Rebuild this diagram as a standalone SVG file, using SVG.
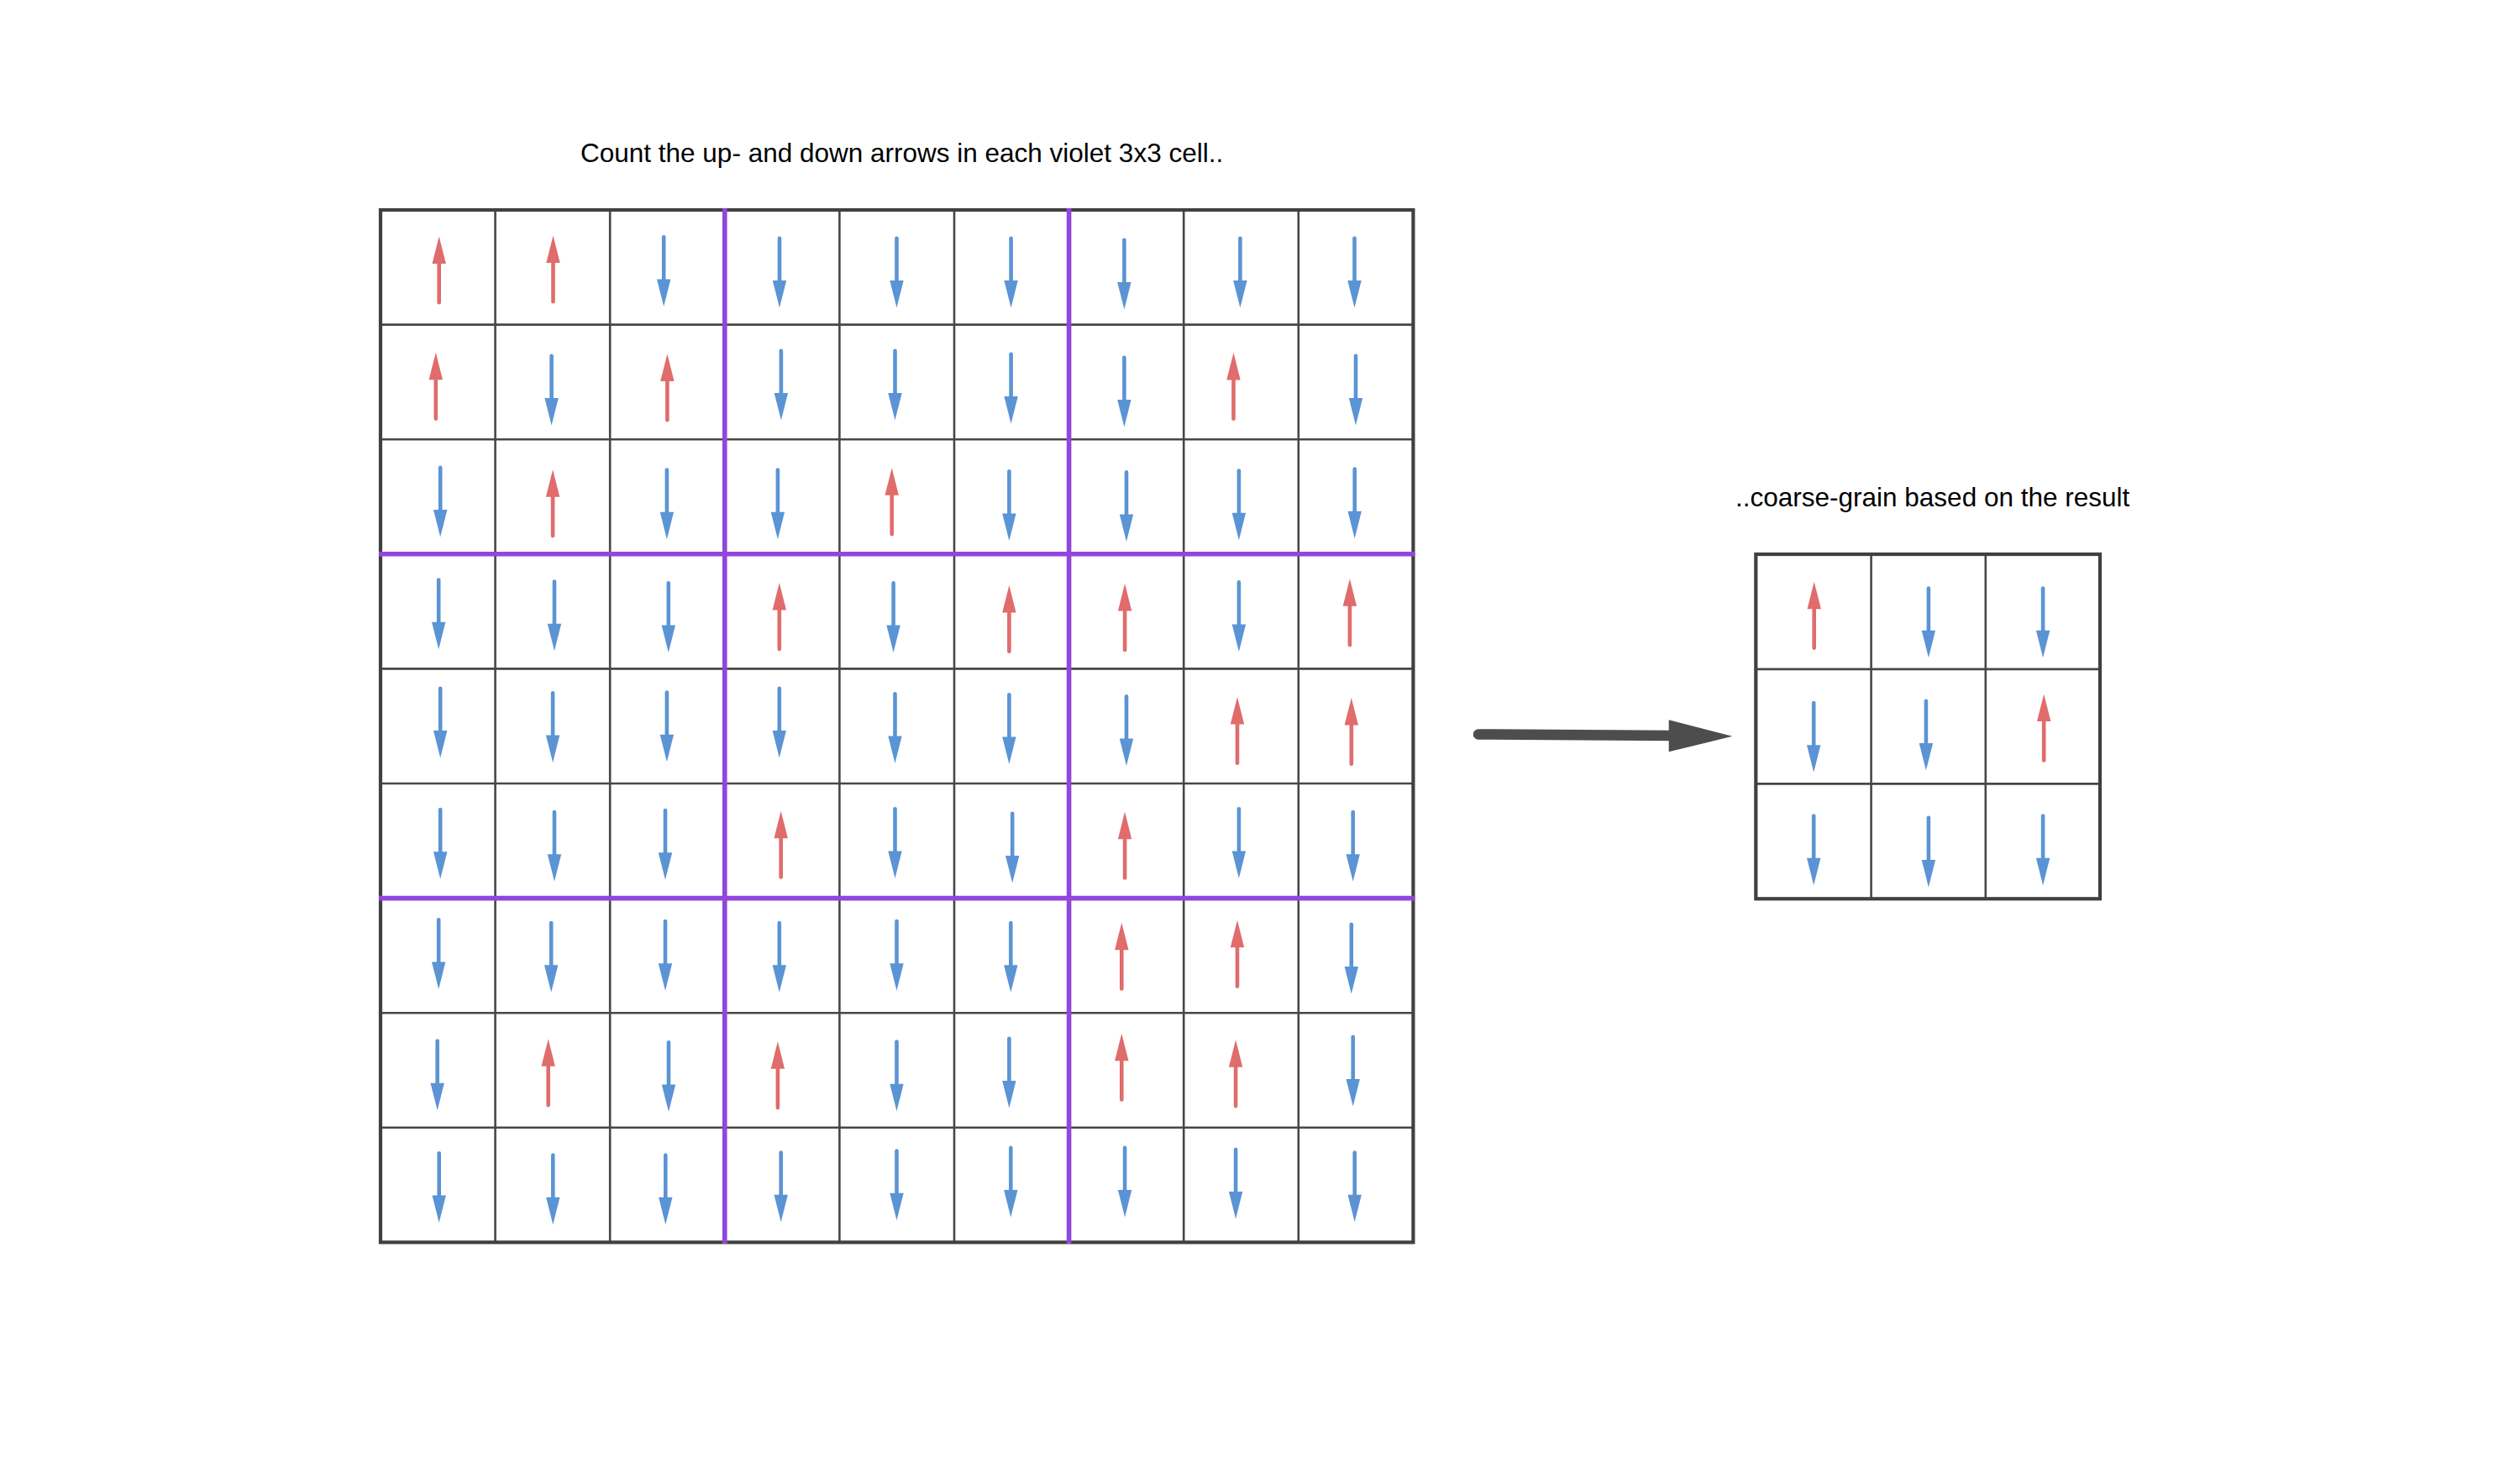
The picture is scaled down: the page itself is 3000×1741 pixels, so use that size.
<svg xmlns="http://www.w3.org/2000/svg" xmlns:xlink="http://www.w3.org/1999/xlink" width="3000" height="1741" viewBox="0 0 3000 1741">
<style>
.lbl{font-family:"Liberation Sans",Arial,sans-serif;font-size:31.5px;fill:#000}
.inner{stroke:#333;stroke-width:2.6;stroke-opacity:0.9;fill:none}
.outer{stroke:#404040;stroke-width:4.2;fill:none}
.violet{stroke:#9146DC;stroke-width:5.6;fill:none}
</style>
<defs>
<g id="up">
<line x1="0" y1="-10" x2="0" y2="38.3" stroke="#E06C6C" stroke-width="4.6" stroke-linecap="round"/>
<polygon points="0,-40.5 -8.2,-8 8.2,-8" fill="#E06C6C"/>
</g>
<g id="dn">
<line x1="0" y1="-40.2" x2="0" y2="12" stroke="#5B94D5" stroke-width="4.6" stroke-linecap="round"/>
<polygon points="0,42.5 -8.2,10 8.2,10" fill="#5B94D5"/>
</g>
</defs>
<rect width="3000" height="1741" fill="#fff"/>
<text class="lbl" x="691" y="192.7">Count the up- and down arrows in each violet 3x3 cell..</text>
<text class="lbl" x="2066" y="603">..coarse-grain based on the result</text>

<g id="big-grid">
<path class="inner" d="M589.6,250V1479.4M726.2,250V1479.4M862.8,250V1479.4M999.4,250V1479.4M1136,250V1479.4M1272.6,250V1479.4M1409.2,250V1479.4M1545.8,250V1479.4M453,386.6H1682.4M453,523.2H1682.4M453,659.8H1682.4M453,796.4H1682.4M453,933H1682.4M453,1069.6H1682.4M453,1206.2H1682.4M453,1342.8H1682.4"/>
<rect class="outer" x="453" y="250" width="1229.4" height="1229.4"/>
<path class="violet" d="M862.8,248V1481M1272.6,248V1481M451,659.8H1684.4M451,1069.6H1684.4"/>
</g>

<g id="big-arrows">
<use xlink:href="#up" x="522.7" y="322"/>
<use xlink:href="#up" x="658.5" y="321"/>
<use xlink:href="#dn" x="790.2" y="322.5"/>
<use xlink:href="#dn" x="928" y="324"/>
<use xlink:href="#dn" x="1067.5" y="324"/>
<use xlink:href="#dn" x="1203.6" y="324"/>
<use xlink:href="#dn" x="1338.4" y="326"/>
<use xlink:href="#dn" x="1476.4" y="324"/>
<use xlink:href="#dn" x="1612.5" y="324"/>

<use xlink:href="#up" x="518.8" y="460.3"/>
<use xlink:href="#dn" x="656.6" y="464"/>
<use xlink:href="#up" x="794.4" y="462"/>
<use xlink:href="#dn" x="929.9" y="458"/>
<use xlink:href="#dn" x="1065.5" y="458"/>
<use xlink:href="#dn" x="1203.6" y="462"/>
<use xlink:href="#dn" x="1338.4" y="466"/>
<use xlink:href="#up" x="1468.5" y="460.5"/>
<use xlink:href="#dn" x="1614" y="464"/>

<use xlink:href="#dn" x="524.2" y="596.9"/>
<use xlink:href="#up" x="658.1" y="599.7"/>
<use xlink:href="#dn" x="793.9" y="599.7"/>
<use xlink:href="#dn" x="925.9" y="599.7"/>
<use xlink:href="#up" x="1061.7" y="597.8"/>
<use xlink:href="#dn" x="1201.4" y="601.6"/>
<use xlink:href="#dn" x="1341" y="602.6"/>
<use xlink:href="#dn" x="1474.9" y="600.7"/>
<use xlink:href="#dn" x="1612.7" y="598.8"/>

<use xlink:href="#dn" x="522.2" y="730.8"/>
<use xlink:href="#dn" x="660" y="732.7"/>
<use xlink:href="#dn" x="795.8" y="734.6"/>
<use xlink:href="#up" x="927.8" y="734.6"/>
<use xlink:href="#dn" x="1063.6" y="734.6"/>
<use xlink:href="#up" x="1201.4" y="737.5"/>
<use xlink:href="#up" x="1339.1" y="735.6"/>
<use xlink:href="#dn" x="1474.9" y="733.6"/>
<use xlink:href="#up" x="1606.9" y="729.8"/>

<use xlink:href="#dn" x="524.2" y="859.9"/>
<use xlink:href="#dn" x="658.1" y="865.6"/>
<use xlink:href="#dn" x="793.9" y="864.7"/>
<use xlink:href="#dn" x="927.8" y="859.9"/>
<use xlink:href="#dn" x="1065.5" y="866.6"/>
<use xlink:href="#dn" x="1201.4" y="867.5"/>
<use xlink:href="#dn" x="1341" y="869.5"/>
<use xlink:href="#up" x="1473" y="870.4"/>
<use xlink:href="#up" x="1608.8" y="871.4"/>

<use xlink:href="#dn" x="524.2" y="1004.3"/>
<use xlink:href="#dn" x="660" y="1007.2"/>
<use xlink:href="#dn" x="792" y="1005.3"/>
<use xlink:href="#up" x="929.7" y="1006.2"/>
<use xlink:href="#dn" x="1065.5" y="1003.4"/>
<use xlink:href="#dn" x="1205.2" y="1009.1"/>
<use xlink:href="#up" x="1339.1" y="1007.2"/>
<use xlink:href="#dn" x="1474.9" y="1003.4"/>
<use xlink:href="#dn" x="1610.7" y="1007.2"/>

<use xlink:href="#dn" x="522.2" y="1135.4"/>
<use xlink:href="#dn" x="656.2" y="1139.2"/>
<use xlink:href="#dn" x="792" y="1137.3"/>
<use xlink:href="#dn" x="927.8" y="1139.2"/>
<use xlink:href="#dn" x="1067.5" y="1137.3"/>
<use xlink:href="#dn" x="1203.3" y="1139.2"/>
<use xlink:href="#up" x="1335.3" y="1139.2"/>
<use xlink:href="#up" x="1473" y="1136.3"/>
<use xlink:href="#dn" x="1608.8" y="1141.1"/>

<use xlink:href="#dn" x="520.7" y="1279.8"/>
<use xlink:href="#up" x="652.7" y="1277.8"/>
<use xlink:href="#dn" x="796" y="1281.5"/>
<use xlink:href="#up" x="925.9" y="1280.8"/>
<use xlink:href="#dn" x="1067.5" y="1280.8"/>
<use xlink:href="#dn" x="1201.4" y="1276.9"/>
<use xlink:href="#up" x="1335.3" y="1271.2"/>
<use xlink:href="#up" x="1471.1" y="1278.8"/>
<use xlink:href="#dn" x="1610.7" y="1275"/>

<use xlink:href="#dn" x="522.7" y="1413.5"/>
<use xlink:href="#dn" x="658.3" y="1415.8"/>
<use xlink:href="#dn" x="792.3" y="1415.8"/>
<use xlink:href="#dn" x="929.7" y="1412.7"/>
<use xlink:href="#dn" x="1067.5" y="1410.8"/>
<use xlink:href="#dn" x="1203.3" y="1407"/>
<use xlink:href="#dn" x="1339.1" y="1407"/>
<use xlink:href="#dn" x="1471.1" y="1408.9"/>
<use xlink:href="#dn" x="1612.7" y="1412.7"/>
</g>

<g id="small-grid">
<path class="inner" d="M2227.6,660V1070.3M2363.8,660V1070.3M2090.3,796.9H2500M2090.3,933.4H2500"/>
<rect class="outer" x="2090.3" y="660" width="409.7" height="410.3"/>
<use xlink:href="#up" x="2159.7" y="733.3"/>
<use xlink:href="#dn" x="2295.9" y="740.7"/>
<use xlink:href="#dn" x="2432.1" y="740.7"/>
<use xlink:href="#dn" x="2159.2" y="877.3"/>
<use xlink:href="#dn" x="2292.9" y="875"/>
<use xlink:href="#up" x="2433.2" y="867.1"/>
<use xlink:href="#dn" x="2159.2" y="1011.7"/>
<use xlink:href="#dn" x="2295.9" y="1014"/>
<use xlink:href="#dn" x="2432.1" y="1011.7"/>
</g>

<g id="connectors">
<line x1="1760" y1="874.4" x2="1992" y2="876" stroke="#4D4D4D" stroke-width="12.5" stroke-linecap="round"/>
<polygon points="2062.3,876.8 1986.7,857.3 1986.7,895.2" fill="#4D4D4D"/>
</g>
</svg>
